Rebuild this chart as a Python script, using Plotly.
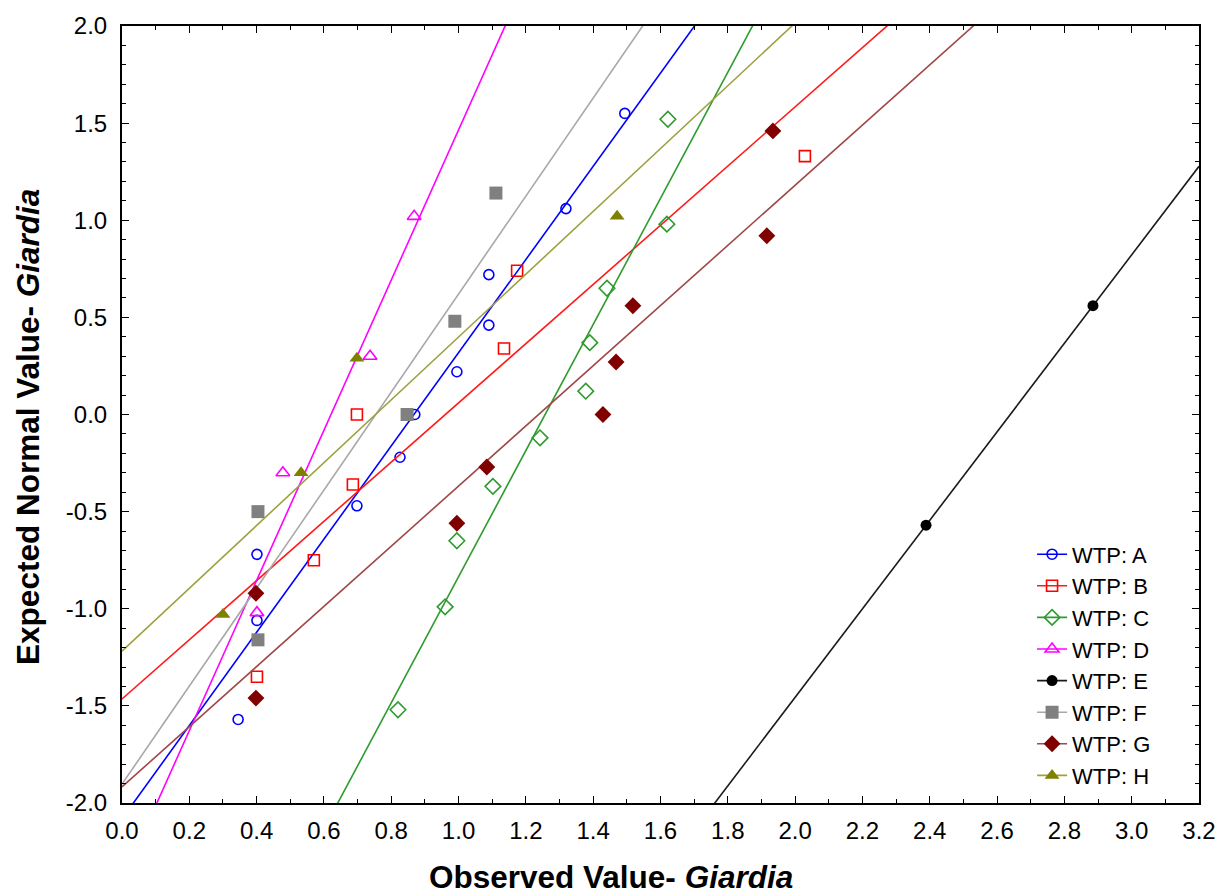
import numpy as np
import plotly.graph_objects as go

# ---- data ----
series_names = ["WTP: A", "WTP: B", "WTP: C", "WTP: D", "WTP: E", "WTP: F", "WTP: G", "WTP: H"]

a_x = [0.345, 0.401, 0.401, 0.698, 0.826, 0.870, 0.995, 1.090, 1.090, 1.319, 1.494]
a_y = [-1.57, -1.06, -0.72, -0.47, -0.22, 0.00, 0.22, 0.46, 0.72, 1.06, 1.55]

b_x = [0.401, 0.570, 0.686, 0.698, 1.135, 1.174, 2.029]
b_y = [-1.35, -0.75, -0.36, 0.00, 0.34, 0.74, 1.33]

c_x = [0.820, 0.960, 0.995, 1.102, 1.242, 1.378, 1.390, 1.441, 1.619, 1.622]
c_y = [-1.52, -0.99, -0.65, -0.37, -0.12, 0.12, 0.37, 0.65, 0.98, 1.52]

d_x = [0.401, 0.478, 0.737, 0.868]
d_y = [-1.02, -0.30, 0.30, 1.02]

e_x = [2.389, 2.885]
e_y = [-0.57, 0.56]

f_x = [0.404, 0.404, 0.847, 0.989, 1.111]
f_y = [-1.16, -0.50, 0.00, 0.48, 1.14]

g_x = [0.398, 0.398, 0.995, 1.084, 1.429, 1.468, 1.518, 1.916, 1.934]
g_y = [-1.46, -0.92, -0.56, -0.27, 0.00, 0.27, 0.56, 0.92, 1.46]

h_x = [0.300, 0.532, 0.698, 1.471]
h_y = [-1.03, -0.30, 0.29, 1.02]

x_tick_vals = [0.0, 0.2, 0.4, 0.6, 0.8, 1.0, 1.2, 1.4, 1.6, 1.8, 2.0, 2.2, 2.4, 2.6, 2.8, 3.0, 3.2]
x_tick_text = ["0.0", "0.2", "0.4", "0.6", "0.8", "1.0", "1.2", "1.4", "1.6", "1.8",
               "2.0", "2.2", "2.4", "2.6", "2.8", "3.0", "3.2"]
y_tick_vals = [-2.0, -1.5, -1.0, -0.5, 0.0, 0.5, 1.0, 1.5, 2.0]
y_tick_text = ["-2.0", "-1.5", "-1.0", "-0.5", "0.0", "0.5", "1.0", "1.5", "2.0"]

# ---- styles ----
styles = [
    dict(line="#0000FF", marker="#0000FF", symbol="circle-open", size=10),
    dict(line="#FF1A1A", marker="#FF0000", symbol="square-open", size=11),
    dict(line="#2E9B2E", marker="#2E9B2E", symbol="diamond-open", size=12),
    dict(line="#FF00FF", marker="#FF00FF", symbol="triangle-up-open", size=12),
    dict(line="#1A1A1A", marker="#000000", symbol="circle", size=11),
    dict(line="#A8A8A8", marker="#808080", symbol="square", size=13),
    dict(line="#A04848", marker="#800000", symbol="diamond", size=13),
    dict(line="#A0A040", marker="#808000", symbol="triangle-up", size=13),
]

all_x = [a_x, b_x, c_x, d_x, e_x, f_x, g_x, h_x]
all_y = [a_y, b_y, c_y, d_y, e_y, f_y, g_y, h_y]

XMIN, XMAX = 0.0, 3.2

fig = go.Figure()

for name, xs, ys, st in zip(series_names, all_x, all_y, styles):
    slope, intercept = np.polyfit(np.array(xs), np.array(ys), 1)
    lx = np.linspace(XMIN, XMAX, 2)
    ly = slope * lx + intercept
    # fitted line
    fig.add_trace(go.Scatter(x=lx, y=ly, mode="lines",
                             line=dict(color=st["line"], width=1.6),
                             showlegend=False, hoverinfo="skip", legendgroup=name))
    # observed points
    marker = dict(symbol=st["symbol"], size=st["size"], color=st["marker"])
    if st["symbol"].endswith("-open"):
        marker["line"] = dict(width=1.6, color=st["marker"])
    fig.add_trace(go.Scatter(x=xs, y=ys, mode="markers", marker=marker,
                             showlegend=False, legendgroup=name, name=name,
                             cliponaxis=True))
    # legend entry
    fig.add_trace(go.Scatter(x=[None], y=[None], mode="lines+markers", name=name,
                             line=dict(color=st["line"], width=1.6),
                             marker=marker, legendgroup=name))

FONT = "Liberation Sans, Arial, sans-serif"

fig.update_layout(
    width=1217, height=895,
    margin=dict(l=122, r=18, t=26, b=92, autoexpand=False),
    paper_bgcolor="white", plot_bgcolor="white",
    font=dict(family=FONT, color="black"),
    showlegend=True,
    legend=dict(x=0.845, y=0.347, xanchor="left", yanchor="top",
                bgcolor="rgba(0,0,0,0)", borderwidth=0,
                font=dict(size=22, family=FONT, color="black"),
                itemwidth=30, tracegroupgap=0),
    xaxis=dict(range=[XMIN, XMAX], tickvals=x_tick_vals, ticktext=x_tick_text,
               automargin=False,
               ticks="inside", ticklen=7, tickwidth=1, tickcolor="black",
               showline=True, linewidth=2, linecolor="black", mirror="ticks",
               showgrid=False, zeroline=False,
               tickfont=dict(size=24, family=FONT, color="black"),
               ticklabelstandoff=5,
               minor=dict(ticks="inside", ticklen=4, dtick=0.1, tick0=0,
                          tickcolor="black", showgrid=False)),
    yaxis=dict(range=[-2.0, 2.0], tickvals=y_tick_vals, ticktext=y_tick_text,
               automargin=False,
               ticks="inside", ticklen=7, tickwidth=1, tickcolor="black",
               showline=True, linewidth=2, linecolor="black", mirror="ticks",
               showgrid=False, zeroline=False,
               tickfont=dict(size=24, family=FONT, color="black"),
               ticklabelstandoff=8,
               minor=dict(ticks="inside", ticklen=4, dtick=0.1, tick0=0,
                          tickcolor="black", showgrid=False)),
    annotations=[
        dict(text="<b>Observed Value- <i>Giardia</i></b>", xref="paper", yref="paper",
             x=0.454, y=-0.0952, xanchor="center", yanchor="middle", showarrow=False,
             font=dict(size=31.5, family=FONT, color="black")),
        dict(text="<b>Expected Normal Value- <i>Giardia</i></b>", xref="paper", yref="paper",
             x=-0.0873, y=0.484, xanchor="center", yanchor="middle", showarrow=False,
             textangle=-90, font=dict(size=31.5, family=FONT, color="black")),
    ],
)

fig.write_html("out.html")
